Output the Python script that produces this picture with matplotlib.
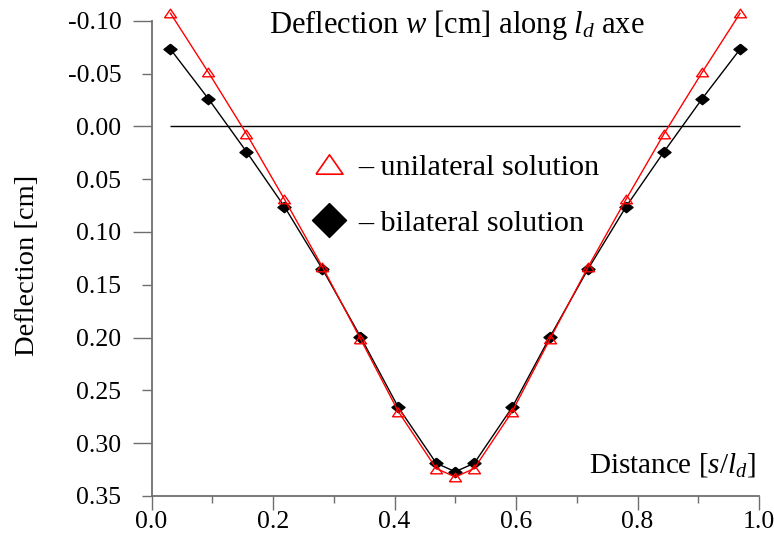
import matplotlib
matplotlib.use("Agg")
import matplotlib.pyplot as plt
from matplotlib.lines import Line2D
from matplotlib.ticker import FixedLocator, FixedFormatter

plt.rcParams['font.family'] = ['Liberation Serif', 'DejaVu Serif']
plt.rcParams['mathtext.fontset'] = 'custom'
plt.rcParams['mathtext.rm'] = 'Liberation Serif'
plt.rcParams['mathtext.it'] = 'Liberation Serif:italic'
plt.rcParams['axes.unicode_minus'] = False

# ---- data ----
distance = [0.03125, 0.09375, 0.15625, 0.21875, 0.28125, 0.34375, 0.40625, 0.46875, 0.5,
            0.53125, 0.59375, 0.65625, 0.71875, 0.78125, 0.84375, 0.90625, 0.96875]
unilateral = [-0.107, -0.051, 0.007, 0.069, 0.133, 0.201, 0.270, 0.324, 0.332,
              0.324, 0.270, 0.201, 0.133, 0.069, 0.007, -0.051, -0.107]
bilateral = [-0.073, -0.026, 0.024, 0.076, 0.135, 0.199, 0.266, 0.319, 0.327,
             0.319, 0.266, 0.199, 0.135, 0.076, 0.024, -0.026, -0.073]
y_major = [-0.10, 0.00, 0.10, 0.20, 0.30]
y_minor = [-0.05, 0.05, 0.15, 0.25, 0.35]
y_major_labels = ['-0.10', '0.00', '0.10', '0.20', '0.30']
y_minor_labels = ['-0.05', '0.05', '0.15', '0.25', '0.35']
x_major = [0.0, 0.2, 0.4, 0.6, 0.8, 1.0]
x_major_labels = ['0.0', '0.2', '0.4', '0.6', '0.8', '1.0']
x_minor = [0.1, 0.3, 0.5, 0.7, 0.9]

fig = plt.figure(figsize=(7.74, 5.44), dpi=100)
W, H = 774, 544
ax = fig.add_axes([151.5 / W, 48 / H, 607.5 / W, 475.3 / H])

tri = [(-1, -0.72), (1, -0.72), (0, 0.72), (-1, -0.72)]
dia = [(0, 0.8), (1, 0), (0, -0.8), (-1, 0), (0, 0.8)]

ax.hlines(0.0, distance[0], distance[-1], colors='black', lw=1.0)
ax.plot(distance, bilateral, color='black', lw=1.0, marker=dia, ms=9.4,
        mfc='black', mec='black', clip_on=False, zorder=3)
ax.plot(distance, unilateral, color='red', lw=1.0, marker=tri, ms=8.6,
        mfc='none', mec='red', mew=1.0, clip_on=False, zorder=4)

ax.set_xlim(0, 1)
ax.set_ylim(0.35, -0.10)

for s in ['top', 'right']:
    ax.spines[s].set_visible(False)
spc = '#6e6e6e'
for s in ['left', 'bottom']:
    ax.spines[s].set_color(spc)
    ax.spines[s].set_linewidth(1.3)

ax.xaxis.set_major_locator(FixedLocator(x_major))
ax.xaxis.set_major_formatter(FixedFormatter(x_major_labels))
ax.xaxis.set_minor_locator(FixedLocator(x_minor))
ax.yaxis.set_major_locator(FixedLocator(y_major))
ax.yaxis.set_major_formatter(FixedFormatter(y_major_labels))
ax.yaxis.set_minor_locator(FixedLocator(y_minor))
ax.yaxis.set_minor_formatter(FixedFormatter(y_minor_labels))

ax.tick_params(axis='x', which='major', direction='out', length=10, width=1.0,
               color=spc, labelsize=18.5, pad=1)
ax.tick_params(axis='x', which='minor', direction='out', length=5, width=1.0, color=spc)
ax.tick_params(axis='y', which='major', direction='out', length=13.7, width=1.0,
               color=spc, labelsize=18.5, pad=8)
ax.tick_params(axis='y', which='minor', direction='out', length=7, width=1.0,
               color=spc, labelsize=18.5, pad=14.7)

ax.set_ylabel('Deflection [cm]', fontsize=20.5)
ax.yaxis.set_label_coords(-0.183, 0.486)

ax.text(0.502, 0.992, 'Deflection $w$ [cm] along $l_d$ axe', transform=ax.transAxes,
        ha='center', va='center', fontsize=22)
ax.text(0.995, 0.065, 'Distance [$s/l_d$]', transform=ax.transAxes,
        ha='right', va='center', fontsize=21)

handles = [Line2D([], [], ls='none', marker=tri, ms=19.4, mfc='none', mec='red', mew=1.2),
           Line2D([], [], ls='none', marker=[(0, 1), (1, 0), (0, -1), (-1, 0), (0, 1)],
                  ms=24.5, mfc='black', mec='black')]
ax.legend(handles, ['\u2013 unilateral solution', '\u2013 bilateral solution'],
          loc='upper left', bbox_to_anchor=(0.268, 0.72), frameon=False, fontsize=21.7,
          handlelength=1.0, handletextpad=0.45, borderpad=0, borderaxespad=0,
          labelspacing=0.95)

fig.savefig('out.png', dpi=100)
